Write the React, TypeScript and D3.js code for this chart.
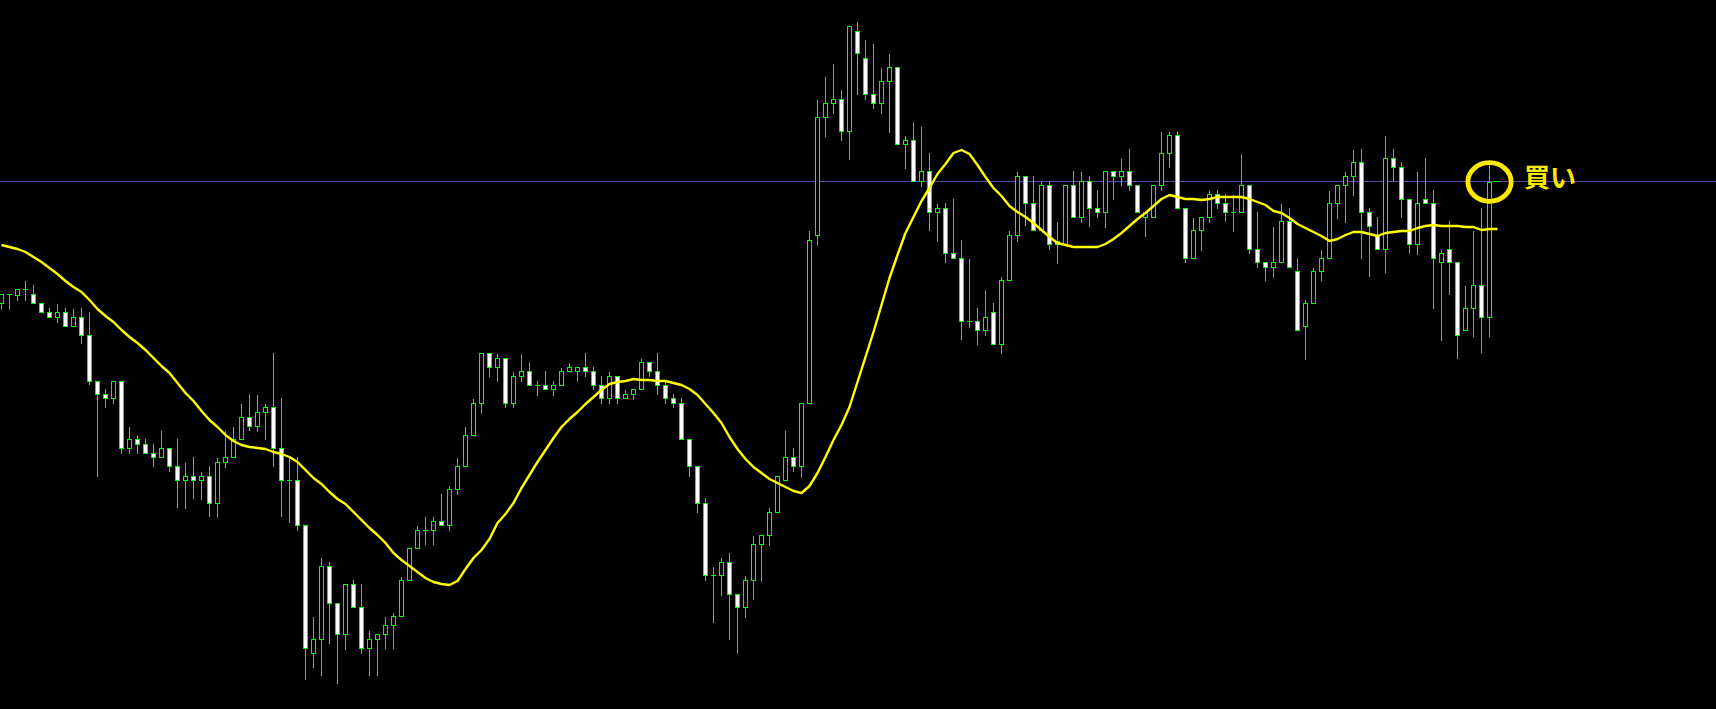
import React from "react";
import * as d3 from "d3";

// Candle data (price units), one entry per bar
const opens = [153.97,154.06,154.05,154.11,154.06,153.97,153.88,153.83,153.88,153.74,153.83,153.65,153.19,153.06,153.02,153.19,152.52,152.61,152.56,152.47,152.43,152.52,152.34,152.20,152.24,152.20,152.24,151.97,152.38,152.43,152.61,152.83,152.74,152.88,152.93,152.52,152.20,152.20,151.75,150.47,150.61,151.34,150.97,150.66,151.16,150.93,150.52,150.61,150.66,150.75,150.84,151.20,151.52,151.70,151.70,151.79,151.75,152.11,152.34,152.65,152.97,153.47,153.33,153.42,152.97,153.24,153.29,153.15,153.15,153.11,153.15,153.29,153.29,153.33,153.29,153.15,153.02,153.24,153.02,153.06,153.11,153.38,153.29,153.15,153.02,152.97,152.61,152.34,151.97,151.25,151.25,151.38,151.06,150.93,151.20,151.56,151.65,151.88,152.20,152.43,152.34,152.97,154.65,155.83,155.97,156.01,155.69,156.69,156.42,156.06,155.97,156.19,156.33,155.56,155.60,155.19,155.29,154.88,154.92,154.47,154.42,153.79,153.79,153.70,153.88,153.56,154.20,154.65,155.24,154.97,154.70,155.15,154.56,154.56,155.15,154.83,155.19,154.92,154.88,155.29,155.24,155.29,155.15,154.83,154.83,155.15,155.47,155.65,154.92,154.42,154.70,154.83,155.06,154.97,154.88,154.88,155.15,154.51,154.38,154.33,154.38,154.79,154.29,153.74,153.97,154.29,154.42,154.97,155.15,155.24,155.38,154.88,154.65,154.51,155.42,155.33,155.01,154.56,155.01,154.97,154.38,154.51,154.38,153.70,153.92,154.15,153.83];
const highs = [154.06,154.06,154.11,154.19,154.15,153.97,153.92,153.96,153.92,153.91,153.92,153.88,153.19,153.11,153.19,153.19,152.73,152.65,152.61,152.56,152.69,152.52,152.61,152.37,152.43,152.28,152.34,152.42,152.69,152.73,152.96,153.06,153.05,152.96,153.47,153.02,152.42,152.43,151.75,150.83,151.42,151.38,150.97,151.16,151.20,151.16,150.69,150.66,150.83,150.87,151.23,151.52,151.74,151.83,151.83,152.06,152.14,152.42,152.73,153.01,153.47,153.47,153.46,153.42,153.28,153.46,153.38,153.19,153.29,153.19,153.32,153.37,153.33,153.47,153.33,153.24,153.28,153.24,153.10,153.11,153.41,153.38,153.47,153.19,153.06,153.02,152.61,152.34,152.02,151.33,151.42,151.47,151.06,151.24,151.64,151.65,151.92,152.24,152.69,152.52,152.97,154.69,156.00,156.23,156.36,156.10,156.74,156.78,156.60,156.56,156.32,156.46,156.33,155.64,155.78,155.73,155.47,154.96,154.97,155.01,154.60,154.41,153.92,154.10,153.97,154.23,154.69,155.28,155.24,155.24,155.18,155.19,154.78,155.15,155.29,155.28,155.24,155.10,155.29,155.29,155.41,155.51,155.15,154.88,155.15,155.68,155.68,155.69,154.92,154.82,154.83,155.09,155.10,155.06,155.05,155.46,155.15,154.88,154.38,154.73,154.96,154.92,154.42,154.00,154.32,154.50,155.09,155.15,155.28,155.50,155.51,154.92,154.83,155.64,155.51,155.38,155.01,155.28,155.42,155.10,154.50,154.79,154.38,154.14,154.69,154.92,155.37];
const lows = [153.91,153.91,154.00,154.00,153.97,153.88,153.83,153.78,153.74,153.74,153.57,153.16,152.24,152.93,152.97,152.47,152.47,152.47,152.47,152.34,152.43,152.29,151.93,151.92,152.02,152.01,151.84,151.83,152.33,152.43,152.61,152.70,152.69,152.61,152.34,151.84,151.78,151.70,150.21,150.33,150.25,150.57,150.17,150.51,150.93,150.47,150.25,150.25,150.52,150.52,150.84,151.20,151.52,151.56,151.56,151.75,151.70,152.06,152.34,152.65,152.87,153.24,153.19,152.93,152.93,153.19,153.15,153.05,153.11,153.05,153.15,153.29,153.19,153.24,153.11,152.97,152.97,152.97,153.02,153.01,153.11,153.24,153.06,152.97,152.93,152.61,152.24,151.88,151.20,150.78,151.05,150.61,150.47,150.83,151.01,151.19,151.55,151.88,152.20,152.29,152.23,152.97,154.55,155.64,155.87,155.60,155.41,156.06,156.01,155.92,155.87,155.68,155.56,155.32,155.19,155.14,154.70,154.59,154.38,154.42,153.61,153.73,153.56,153.65,153.56,153.47,154.20,154.59,154.75,154.70,154.70,154.51,154.37,154.56,154.83,154.78,154.74,154.83,154.73,155.01,155.15,155.10,154.88,154.64,154.83,155.10,155.33,154.92,154.38,154.42,154.50,154.78,154.92,154.79,154.69,154.88,154.47,154.33,154.20,154.23,154.38,154.33,153.70,153.41,153.97,154.20,154.42,154.82,154.78,155.05,154.42,154.24,154.51,154.28,155.19,154.83,154.47,154.46,154.97,153.92,153.60,154.06,153.42,153.70,153.64,153.48,153.64];
const closes = [154.06,154.06,154.11,154.11,153.97,153.88,153.83,153.88,153.74,153.83,153.65,153.19,153.06,153.02,153.19,152.52,152.61,152.56,152.47,152.43,152.52,152.34,152.20,152.24,152.20,152.24,151.97,152.38,152.43,152.61,152.83,152.74,152.88,152.93,152.52,152.20,152.20,151.75,150.52,150.61,151.34,150.97,150.66,151.16,150.93,150.52,150.61,150.66,150.75,150.84,151.20,151.52,151.70,151.70,151.79,151.75,152.11,152.34,152.65,152.97,153.47,153.33,153.42,152.97,153.24,153.29,153.15,153.15,153.11,153.15,153.29,153.33,153.33,153.29,153.15,153.02,153.24,153.02,153.06,153.11,153.38,153.29,153.15,153.02,152.97,152.61,152.34,151.97,151.25,151.25,151.38,151.06,150.93,151.20,151.56,151.65,151.88,152.24,152.43,152.34,152.97,154.60,155.83,155.97,156.01,155.69,156.74,156.47,156.06,155.97,156.19,156.33,155.56,155.60,155.19,155.29,154.88,154.92,154.47,154.42,153.79,153.79,153.70,153.83,153.56,154.20,154.65,155.24,154.97,154.70,155.15,154.56,154.59,155.15,154.83,155.19,154.92,154.88,155.29,155.24,155.29,155.15,154.88,154.88,155.15,155.47,155.65,154.92,154.42,154.70,154.83,155.06,154.97,154.88,154.88,155.15,154.51,154.38,154.33,154.38,154.79,154.33,153.70,153.97,154.29,154.42,154.97,155.15,155.24,155.38,154.88,154.74,154.51,155.42,155.33,155.01,154.56,154.97,154.97,154.42,154.47,154.38,153.65,153.92,154.15,153.83,155.18];

// Moving average (drawn one bar ahead, 188 slots)
const maValues = [154.55,154.53,154.51,154.48,154.43,154.38,154.32,154.26,154.19,154.13,154.08,154.00,153.91,153.84,153.78,153.70,153.63,153.57,153.50,153.42,153.34,153.27,153.17,153.07,152.99,152.89,152.80,152.73,152.65,152.59,152.55,152.53,152.52,152.51,152.48,152.46,152.43,152.38,152.30,152.22,152.16,152.08,152.01,151.96,151.88,151.80,151.72,151.65,151.57,151.47,151.40,151.34,151.28,151.22,151.18,151.16,151.15,151.19,151.31,151.42,151.50,151.61,151.77,151.86,151.97,152.12,152.25,152.38,152.50,152.62,152.73,152.81,152.88,152.96,153.03,153.10,153.16,153.18,153.19,153.21,153.20,153.20,153.19,153.19,153.17,153.15,153.11,153.05,152.96,152.87,152.77,152.63,152.51,152.41,152.33,152.27,152.21,152.17,152.13,152.09,152.07,152.14,152.27,152.43,152.60,152.75,152.93,153.18,153.43,153.68,153.95,154.22,154.45,154.67,154.83,154.99,155.12,155.26,155.36,155.47,155.50,155.46,155.35,155.23,155.12,155.04,154.94,154.88,154.83,154.77,154.70,154.63,154.57,154.55,154.53,154.53,154.53,154.53,154.56,154.61,154.67,154.74,154.81,154.87,154.94,155.01,155.05,155.03,155.01,155.01,155.00,155.01,155.03,155.03,155.03,155.03,155.01,154.98,154.95,154.89,154.87,154.82,154.76,154.72,154.68,154.64,154.59,154.61,154.65,154.68,154.68,154.66,154.64,154.67,154.68,154.69,154.69,154.72,154.74,154.75,154.74,154.74,154.74,154.73,154.73,154.70,154.71,154.71];

const signalLabel = "買い";

const W = 1716;
const H = 709;
const GREEN = "#00FF00";
const YELLOW = "#FFE800";

export default function App() {
  const n = opens.length;
  const x = d3.scaleLinear().domain([0, 1]).range([1, 9]);
  const y = d3.scaleLinear().domain([157, 149.91]).range([0, 709]);
  const col = (i: number) => Math.round(x(i));
  const row = (p: number) => Math.round(y(p));

  const maLine = d3
    .line<number>()
    .x((_, k) => x(k) + 0.5)
    .y((v) => y(v))
    .curve(d3.curveLinear);

  const lastClose = closes[n - 1];
  const lastCol = col(n - 1);

  const candles = d3.range(n).map((i) => {
    const c = col(i);
    const o = opens[i];
    const cl = closes[i];
    const bull = cl > o;
    const top = row(Math.max(o, cl));
    const bot = row(Math.min(o, cl));
    const hi = row(highs[i]);
    const lo = row(lows[i]);
    return (
      <g key={i}>
        <line x1={c + 0.5} x2={c + 0.5} y1={hi} y2={lo + 1} stroke={GREEN} strokeWidth={1} />
        {bot - top < 1 ? (
          <line x1={c - 2} x2={c + 3} y1={top + 0.5} y2={top + 0.5} stroke={GREEN} strokeWidth={1} />
        ) : (
          <rect
            x={c - 1.5}
            y={top + 0.5}
            width={4}
            height={bot - top}
            fill={bull ? "#000000" : "#FFFFFF"}
            stroke={GREEN}
            strokeWidth={1}
          />
        )}
      </g>
    );
  });

  const bidRow = row(lastClose);

  return (
    <svg
      width={W}
      height={H}
      style={{ position: "absolute", left: 0, top: 0, background: "#000000", display: "block" }}
    >
      <rect x={0} y={0} width={W} height={H} fill="#000000" />
      <line x1={0} x2={W} y1={bidRow - 0.5} y2={bidRow - 0.5} stroke="#5548A8" strokeWidth={1} shapeRendering="crispEdges" />
      <g shapeRendering="crispEdges">{candles}</g>
      <line x1={lastCol + 5} x2={lastCol + 11} y1={bidRow - 0.5} y2={bidRow - 0.5} stroke={GREEN} strokeWidth={1} shapeRendering="crispEdges" />
      <path d={maLine(maValues) || ""} fill="none" stroke="#FFFF00" strokeWidth={2.4} strokeLinejoin="round" />
      <ellipse cx={lastCol + 0.5} cy={bidRow} rx={21.6} ry={19.3} fill="none" stroke={YELLOW} strokeWidth={4.8} />
      <text
        x={1524}
        y={187}
        fill={YELLOW}
        fontFamily="'Noto Sans CJK JP', 'Noto Sans CJK SC', sans-serif"
        fontWeight={700}
        fontSize={26}
      >
        {signalLabel}
      </text>
    </svg>
  );
}
